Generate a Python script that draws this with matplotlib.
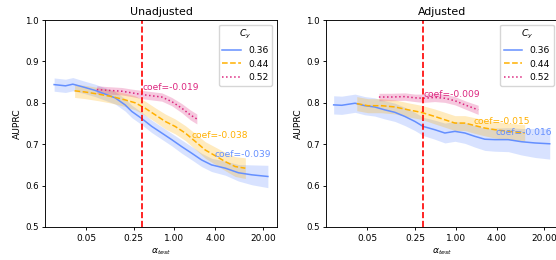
import numpy as np
import matplotlib.pyplot as plt

# colours of the three C_y groups
c_blue = '#648FFF'
c_gold = '#FFB000'
c_pink = '#DC267F'

cy_labels = ['0.36', '0.44', '0.52']
xticks = [0.05, 0.25, 1.0, 4.0, 20.0]
alpha_train = 0.33

# ---- Unadjusted ----
u_x_036 = [0.017, 0.025, 0.032, 0.046, 0.068, 0.096, 0.134, 0.188, 0.236, 0.324, 0.463,
           0.65, 0.91, 1.28, 1.8, 2.5, 3.5, 5.6, 8.7, 13.7, 23.6]
u_y_036 = [0.844, 0.841, 0.845, 0.838, 0.830, 0.821, 0.812, 0.795, 0.779, 0.763, 0.743,
           0.727, 0.711, 0.694, 0.678, 0.662, 0.650, 0.642, 0.631, 0.626, 0.622]
u_e_036 = [0.016, 0.016, 0.016, 0.015, 0.015, 0.015, 0.015, 0.015, 0.015, 0.015, 0.015,
           0.015, 0.015, 0.016, 0.016, 0.016, 0.016, 0.017, 0.02, 0.024, 0.027]

u_x_044 = [0.034, 0.049, 0.076, 0.12, 0.188, 0.264, 0.37, 0.52, 0.73, 1.02, 1.44,
           2.01, 2.83, 3.98, 5.56, 7.8, 11.0]
u_y_044 = [0.829, 0.826, 0.821, 0.815, 0.807, 0.800, 0.787, 0.771, 0.755, 0.743, 0.727,
           0.707, 0.686, 0.672, 0.658, 0.646, 0.642]
u_e_044 = [0.016, 0.016, 0.016, 0.016, 0.016, 0.017, 0.017, 0.017, 0.018, 0.018, 0.018,
           0.019, 0.02, 0.021, 0.022, 0.024, 0.025]

u_x_052 = [0.072, 0.107, 0.168, 0.236, 0.33, 0.46, 0.65, 0.91, 1.28, 1.7, 2.13]
u_y_052 = [0.832, 0.830, 0.828, 0.824, 0.820, 0.817, 0.814, 0.803, 0.787, 0.771, 0.761]
u_e_052 = [0.009, 0.009, 0.009, 0.009, 0.01, 0.01, 0.01, 0.01, 0.011, 0.012, 0.012]

# ---- Adjusted ----
a_x_036 = [0.016, 0.021, 0.033, 0.046, 0.064, 0.09, 0.127, 0.178, 0.25, 0.33, 0.49,
           0.69, 0.97, 1.36, 1.9, 2.67, 3.75, 5.9, 9.2, 14.5, 24.0]
a_y_036 = [0.795, 0.794, 0.799, 0.793, 0.790, 0.783, 0.777, 0.767, 0.755, 0.743, 0.735,
           0.727, 0.731, 0.727, 0.719, 0.712, 0.711, 0.711, 0.706, 0.703, 0.701]
a_e_036 = [0.022, 0.022, 0.022, 0.022, 0.022, 0.022, 0.022, 0.022, 0.022, 0.022, 0.023,
           0.024, 0.024, 0.025, 0.026, 0.027, 0.028, 0.029, 0.032, 0.035, 0.037]

a_x_044 = [0.035, 0.051, 0.081, 0.127, 0.2, 0.31, 0.49, 0.69, 0.97, 1.36, 1.9,
           2.67, 3.75, 5.9, 10.3]
a_y_044 = [0.798, 0.793, 0.793, 0.790, 0.783, 0.777, 0.767, 0.759, 0.751, 0.751, 0.745,
           0.739, 0.735, 0.731, 0.727]
a_e_044 = [0.017, 0.017, 0.017, 0.017, 0.017, 0.017, 0.018, 0.018, 0.018, 0.018, 0.019,
           0.019, 0.02, 0.02, 0.02]

a_x_052 = [0.074, 0.113, 0.178, 0.25, 0.33, 0.49, 0.69, 0.97, 1.36, 2.13]
a_y_052 = [0.814, 0.814, 0.815, 0.812, 0.811, 0.813, 0.811, 0.805, 0.795, 0.783]
a_e_052 = [0.009, 0.009, 0.009, 0.009, 0.01, 0.01, 0.01, 0.01, 0.01, 0.011]

# coef labels: (text, x, y)
u_coefs = [('coef=-0.039', 3.84, 0.676), ('coef=-0.038', 1.76, 0.720), ('coef=-0.019', 0.34, 0.837)]
a_coefs = [('coef=-0.016', 3.84, 0.728), ('coef=-0.015', 1.8, 0.755), ('coef=-0.009', 0.34, 0.820)]

# the source figure looks like default matplotlib shrunk by ~0.65
plt.rcParams.update({
    'font.size': 6.6,
    'ytick.labelsize': 6.2,
    'xtick.labelsize': 6.5,
    'axes.linewidth': 0.65,
    'xtick.major.size': 2.3, 'ytick.major.size': 2.3,
    'xtick.major.width': 0.65, 'ytick.major.width': 0.65,
    'xtick.major.pad': 2.5, 'ytick.major.pad': 2.3,
})

fig = plt.figure(figsize=(5.56, 2.6), dpi=100)
ax1 = fig.add_axes([0.081, 0.127, 0.417, 0.796])
ax2 = fig.add_axes([0.587, 0.127, 0.417, 0.796])

panels = [
    (ax1, 'Unadjusted', [(u_x_036, u_y_036, u_e_036), (u_x_044, u_y_044, u_e_044), (u_x_052, u_y_052, u_e_052)], u_coefs),
    (ax2, 'Adjusted', [(a_x_036, a_y_036, a_e_036), (a_x_044, a_y_044, a_e_044), (a_x_052, a_y_052, a_e_052)], a_coefs),
]
colors = [c_blue, c_gold, c_pink]
styles = ['-', '--', ':']

for ax, title, series, coefs in panels:
    for (x, y, e), col, ls, lab in zip(series, colors, styles, cy_labels):
        x = np.array(x); y = np.array(y); e = np.array(e)
        ax.fill_between(x, y - e, y + e, color=col, alpha=0.25, lw=0)
        ax.plot(x, y, color=col, ls=ls, lw=1.1, label=lab)
    for (txt, tx, ty), col in zip(coefs, colors):
        ax.text(tx, ty, txt, color=col, ha='left', va='center', fontsize=6.6)
    ax.axvline(alpha_train, color='red', ls='--', lw=1.2)
    ax.set_xscale('log')
    ax.set_xlim(0.0125, 32)
    ax.set_ylim(0.5, 1.0)
    ax.set_xticks(xticks)
    ax.set_xticklabels(['%.2f' % t for t in xticks])
    ax.minorticks_off()
    ax.set_xlabel(r'$\alpha_{test}$', labelpad=2.5)
    ax.set_ylabel('AUPRC', labelpad=2.5)
    ax.set_title(title, fontsize=7.9, pad=3.5)
    ax.legend(title=r'$C_y$', loc='upper right', fontsize=6.6, title_fontsize=6.6)

fig.savefig('out.png', dpi=100)
